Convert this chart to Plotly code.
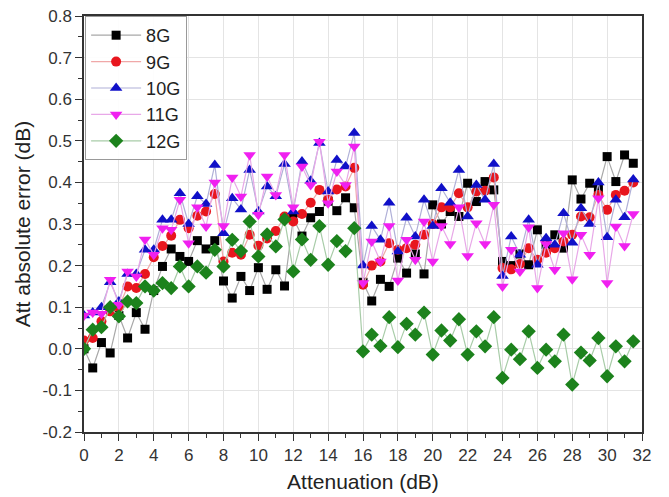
import plotly.graph_objects as go

atten = [i * 0.5 for i in range(64)]

g8 = [0.0, -0.046, 0.015, -0.01, 0.08, 0.026, 0.087, 0.047, 0.14, 0.198, 0.24, 0.222, 0.21, 0.26, 0.24, 0.26,
      0.163, 0.122, 0.174, 0.14, 0.195, 0.143, 0.19, 0.151, 0.314, 0.271, 0.315, 0.33, 0.355, 0.332, 0.363, 0.339,
      0.16, 0.115, 0.167, 0.15, 0.218, 0.182, 0.228, 0.18, 0.346, 0.30, 0.33, 0.318, 0.398, 0.354, 0.402, 0.382,
      0.21, 0.2, 0.228, 0.202, 0.286, 0.25, 0.274, 0.242, 0.406, 0.36, 0.398, 0.383, 0.462, 0.402, 0.466, 0.446]
g9 = [0.02, 0.026, 0.066, 0.09, 0.1, 0.15, 0.146, 0.18, 0.22, 0.247, 0.272, 0.31, 0.29, 0.32, 0.33, 0.372,
      0.21, 0.231, 0.226, 0.274, 0.248, 0.265, 0.283, 0.318, 0.306, 0.324, 0.351, 0.382, 0.358, 0.383, 0.39, 0.435,
      0.154, 0.2, 0.21, 0.254, 0.238, 0.242, 0.25, 0.274, 0.3, 0.34, 0.34, 0.374, 0.34, 0.378, 0.38, 0.412,
      0.194, 0.191, 0.204, 0.242, 0.214, 0.231, 0.242, 0.258, 0.274, 0.318, 0.316, 0.37, 0.334, 0.37, 0.38, 0.40]
g10 = [0.08, 0.087, 0.1, 0.16, 0.114, 0.18, 0.18, 0.238, 0.238, 0.31, 0.31, 0.374, 0.30, 0.367, 0.348, 0.442,
       0.278, 0.362, 0.335, 0.43, 0.33, 0.39, 0.367, 0.444, 0.33, 0.45, 0.404, 0.495, 0.378, 0.454, 0.438, 0.519,
       0.20, 0.295, 0.262, 0.351, 0.234, 0.315, 0.27, 0.358, 0.295, 0.386, 0.351, 0.43, 0.318, 0.394, 0.358, 0.444,
       0.175, 0.27, 0.226, 0.31, 0.202, 0.266, 0.25, 0.326, 0.255, 0.338, 0.30, 0.40, 0.268, 0.358, 0.316, 0.407]
g11 = [0.08, 0.087, 0.084, 0.166, 0.106, 0.186, 0.174, 0.263, 0.226, 0.29, 0.286, 0.358, 0.254, 0.34, 0.294, 0.40,
       0.295, 0.412, 0.366, 0.466, 0.322, 0.414, 0.37, 0.466, 0.34, 0.438, 0.394, 0.498, 0.35, 0.426, 0.394, 0.486,
       0.158, 0.258, 0.21, 0.295, 0.164, 0.262, 0.214, 0.306, 0.21, 0.295, 0.252, 0.34, 0.223, 0.302, 0.252, 0.346,
       0.15, 0.238, 0.186, 0.292, 0.146, 0.252, 0.19, 0.278, 0.167, 0.274, 0.226, 0.362, 0.158, 0.294, 0.247, 0.324]
g12 = [0.0, 0.046, 0.052, 0.10, 0.078, 0.114, 0.11, 0.15, 0.14, 0.158, 0.146, 0.198, 0.15, 0.198, 0.183, 0.238,
       0.198, 0.262, 0.235, 0.306, 0.222, 0.275, 0.246, 0.311, 0.186, 0.263, 0.214, 0.295, 0.202, 0.259, 0.235, 0.29,
       -0.006, 0.034, 0.007, 0.076, 0.004, 0.06, 0.034, 0.087, -0.014, 0.044, 0.02, 0.071, -0.014, 0.042, 0.006, 0.076,
       -0.07, -0.002, -0.025, 0.042, -0.046, -0.002, -0.03, 0.034, -0.086, -0.009, -0.028, 0.026, -0.066, 0.006, -0.03, 0.018]

series_names = ["8G", "9G", "10G", "11G", "12G"]
x_tickvals = list(range(0, 33, 2))
y_tickvals = [-0.2, -0.1, 0.0, 0.1, 0.2, 0.3, 0.4, 0.5, 0.6, 0.7, 0.8]
y_ticktext = ["-0.2", "-0.1", "0.0", "0.1", "0.2", "0.3", "0.4", "0.5", "0.6", "0.7", "0.8"]

styles = [
    dict(symbol="square", color="#000000", line="#a8a8a8", size=9),
    dict(symbol="circle", color="#e8161e", line="#f0a8a8", size=10),
    dict(symbol="triangle-up", color="#1010c8", line="#b0b0d8", size=11),
    dict(symbol="triangle-down", color="#f020f0", line="#e8a8e8", size=11),
    dict(symbol="diamond", color="#1c821c", line="#a8cca8", size=11),
]

fig = go.Figure()
for name, ys, st in zip(series_names, [g8, g9, g10, g11, g12], styles):
    fig.add_trace(go.Scatter(
        x=atten, y=ys, name=name, mode="lines+markers",
        line=dict(color=st["line"], width=1.2),
        marker=dict(symbol=st["symbol"], color=st["color"], size=st["size"], line=dict(width=0)),
    ))

fam = "Liberation Sans, Arial, sans-serif"
tick_font = dict(family=fam, size=17, color="#333")
fig.update_layout(
    width=669, height=497,
    margin=dict(l=84, r=27, t=16, b=65, autoexpand=False),
    paper_bgcolor="white", plot_bgcolor="white",
    showlegend=True,
    legend=dict(x=0.002, y=1.0, xanchor="left", yanchor="top",
                bordercolor="#999", borderwidth=1, bgcolor="rgba(255,255,255,0.9)",
                font=dict(family=fam, size=18, color="#222"),
                tracegroupgap=0, itemwidth=50),
    font=dict(family=fam, size=17, color="#222"),
)
fig.update_xaxes(
    range=[0, 32], tickvals=x_tickvals, showgrid=True, gridcolor="#e4e4e4", gridwidth=1,
    showline=True, linecolor="#333", linewidth=1.5, mirror=True,
    ticks="outside", ticklen=7, tickcolor="#333", tickwidth=1.2,
    minor=dict(ticks="outside", dtick=1, ticklen=4, tickcolor="#333", showgrid=False),
    zeroline=False,
    title=dict(text="Attenuation (dB)", font=dict(family=fam, size=21, color="#222"), standoff=10),
    tickfont=tick_font,
)
fig.update_yaxes(
    range=[-0.2, 0.8], tickvals=y_tickvals, ticktext=y_ticktext, showgrid=True, gridcolor="#e4e4e4", gridwidth=1,
    showline=True, linecolor="#333", linewidth=1.5, mirror=True,
    ticks="outside", ticklen=7, tickcolor="#333", tickwidth=1.2,
    minor=dict(ticks="outside", dtick=0.05, ticklen=4, tickcolor="#333", showgrid=False),
    zeroline=False,
    title=dict(text="Att absolute error (dB)", font=dict(family=fam, size=21, color="#222"), standoff=6),
    tickfont=tick_font,
)

fig.write_html("out.html")
